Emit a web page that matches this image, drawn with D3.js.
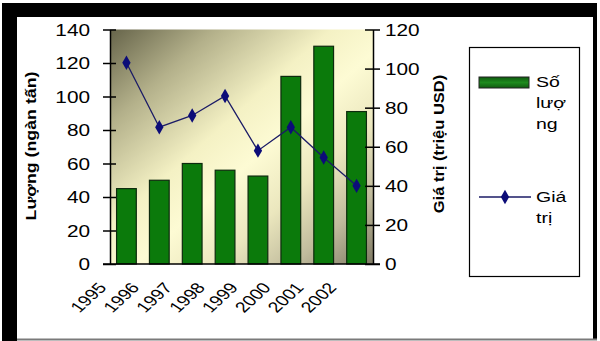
<!DOCTYPE html>
<html>
<head>
<meta charset="utf-8">
<script src="https://cdn.jsdelivr.net/npm/d3@7/dist/d3.min.js"></script>
<style>
  html, body { margin: 0; padding: 0; background: #fff; }
  svg { display: block; }
  text { font-family: "Liberation Sans", Arial, sans-serif; fill: #000; }
</style>
</head>
<body>
<svg id="chart" width="600" height="341"></svg>
<script>
// Export data, 1995–2002
const years = ["1995", "1996", "1997", "1998", "1999", "2000", "2001", "2002"];
const quantity = [45, 50, 60, 56, 52.5, 112, 130, 91];      // thousand tonnes (left axis)
const value = [103, 70, 76, 86, 58, 70, 54.5, 40];          // million USD (right axis)
const leftTicks = [0, 20, 40, 60, 80, 100, 120, 140];
const rightTicks = [0, 20, 40, 60, 80, 100, 120];
const legendQuantity = ["Số", "lượ", "ng"];
const legendValue = ["Giá", "trị"];

const svg = d3.select("#chart");
const SX = 1.3; // horizontal widening of the lettering

// Frame around the whole figure
svg.append("rect").attr("x", 0).attr("y", 0).attr("width", 600).attr("height", 341).attr("fill", "#fff");
svg.append("rect").attr("x", 2).attr("y", 3).attr("width", 595).attr("height", 14).attr("fill", "#000");
svg.append("rect").attr("x", 2).attr("y", 3).attr("width", 15).attr("height", 338).attr("fill", "#000");
svg.append("rect").attr("x", 593).attr("y", 3).attr("width", 4).attr("height", 337).attr("fill", "#000");
svg.append("rect").attr("x", 17).attr("y", 338.5).attr("width", 580).attr("height", 2).attr("fill", "#7a7a7a");

// Plot geometry
const plot = { left: 110, right: 373, top: 29.5, bottom: 264 };

const x = d3.scaleBand().domain(years)
  .range([plot.left, plot.right]).paddingInner(0.4).paddingOuter(0.2);
const yL = d3.scaleLinear().domain([0, 140]).range([plot.bottom, plot.top]);
const yR = d3.scaleLinear().domain([0, 120]).range([plot.bottom, plot.top]);

// Plot area background: diagonal shading dark → cream → dark
const defs = svg.append("defs");
const grad = defs.append("linearGradient").attr("id", "bg")
  .attr("x1", "0").attr("y1", "0").attr("x2", "1").attr("y2", "1");
[[0, "#66644a"], [0.2, "#b3b08a"], [0.42, "#f4f1c4"], [0.55, "#fdfbd4"], [0.7, "#ebe7be"], [0.85, "#c0bb9c"], [1, "#7f7a64"]]
  .forEach(([o, c]) => grad.append("stop").attr("offset", o).attr("stop-color", c));

svg.append("rect")
  .attr("x", plot.left).attr("y", plot.top)
  .attr("width", plot.right - plot.left).attr("height", plot.bottom - plot.top)
  .attr("fill", "url(#bg)");

// Bars: quantity
svg.append("g").selectAll("rect").data(quantity).join("rect")
  .attr("x", (d, i) => x(years[i]))
  .attr("y", d => yL(d))
  .attr("width", x.bandwidth())
  .attr("height", d => yL(0) - yL(d))
  .attr("fill", "#0b7a0b")
  .attr("stroke", "#0d2a0d")
  .attr("stroke-width", 1.2);

// Line: value
const line = d3.line()
  .x((d, i) => x(years[i]) + x.bandwidth() / 2)
  .y(d => yR(d));
svg.append("path").datum(value)
  .attr("d", line)
  .attr("fill", "none")
  .attr("stroke", "#1b1b66")
  .attr("stroke-width", 1.3);

const diamond = d3.symbol().type(d3.symbolDiamond).size(60);
svg.append("g").selectAll("path").data(value).join("path")
  .attr("transform", (d, i) => `translate(${x(years[i]) + x.bandwidth() / 2},${yR(d)})`)
  .attr("d", diamond)
  .attr("fill", "#0c0c78");

// Left axis
const gL = svg.append("g").attr("transform", `translate(${plot.left},0)`)
  .call(d3.axisLeft(yL).tickValues(leftTicks).tickSizeOuter(0));
gL.select(".domain").attr("stroke", "#000").attr("stroke-width", 1.5);
gL.selectAll(".tick line").attr("x1", 6).attr("x2", -7).attr("stroke", "#000").attr("stroke-width", 1.5);
gL.selectAll(".tick text")
  .attr("x", -20 / SX).attr("dy", "0.36em")
  .attr("transform", `scale(${SX},1)`)
  .style("font-size", "16px").style("font-family", "Liberation Sans, Arial, sans-serif")
  .attr("text-anchor", "end");

// Right axis
const gR = svg.append("g").attr("transform", `translate(${plot.right},0)`)
  .call(d3.axisRight(yR).tickValues(rightTicks).tickSizeOuter(0));
gR.select(".domain").attr("stroke", "#000").attr("stroke-width", 1.5);
gR.selectAll(".tick line").attr("x1", -8).attr("x2", 7).attr("stroke", "#000").attr("stroke-width", 1.5);
gR.selectAll(".tick text")
  .attr("x", 12 / SX).attr("dy", "0.36em")
  .attr("transform", `scale(${SX},1)`)
  .style("font-size", "16px").style("font-family", "Liberation Sans, Arial, sans-serif")
  .attr("text-anchor", "start");

// Category axis line
svg.append("line")
  .attr("x1", plot.left - 7).attr("x2", plot.right + 7)
  .attr("y1", plot.bottom).attr("y2", plot.bottom)
  .attr("stroke", "#000").attr("stroke-width", 1.5);

// Category labels, slanted
svg.append("g").selectAll("text").data(years).join("text")
  .attr("transform", d => `translate(${x(d) + x.bandwidth() / 2 - 19},${plot.bottom + 24}) scale(${SX},1) rotate(-50)`)
  .attr("text-anchor", "end")
  .style("font-size", "15px")
  .text(d => d);

// Axis titles
svg.append("text")
  .attr("transform", `translate(36,146) rotate(-90) scale(1.27,1.0)`)
  .attr("text-anchor", "middle")
  .style("font-size", "14px").style("font-weight", "bold")
  .text("Lượng (ngàn tấn)");

svg.append("text")
  .attr("transform", `translate(444,144) rotate(-90) scale(1.18,1.0)`)
  .attr("text-anchor", "middle")
  .style("font-size", "14px").style("font-weight", "bold")
  .text("Giá trị (triệu USD)");

// Legend
const lg = svg.append("g");
lg.append("rect").attr("x", 469.5).attr("y", 47.5).attr("width", 110).attr("height", 229)
  .attr("fill", "#fff").attr("stroke", "#000").attr("stroke-width", 1.2);

const swGrad = defs.append("linearGradient").attr("id", "sw")
  .attr("x1", "0").attr("y1", "0").attr("x2", "0").attr("y2", "1");
[[0, "#0f5a0f"], [0.5, "#1d8a1d"], [1, "#0f5a0f"]]
  .forEach(([o, c]) => swGrad.append("stop").attr("offset", o).attr("stop-color", c));
lg.append("rect").attr("x", 479).attr("y", 77).attr("width", 50).attr("height", 11)
  .attr("fill", "url(#sw)").attr("stroke", "#222").attr("stroke-width", 1);

lg.append("line").attr("x1", 479).attr("x2", 531).attr("y1", 197).attr("y2", 197)
  .attr("stroke", "#1b1b66").attr("stroke-width", 1.3);
lg.append("path").attr("transform", "translate(505,197)").attr("d", diamond).attr("fill", "#0c0c78");

const legendText = (lines, y0) => {
  lines.forEach((t, i) => {
    lg.append("text")
      .attr("transform", `translate(536,${y0 + i * 21}) scale(${SX},1)`)
      .style("font-size", "15px")
      .text(t);
  });
};
legendText(legendQuantity, 87);
legendText(legendValue, 202);
</script>
</body>
</html>
